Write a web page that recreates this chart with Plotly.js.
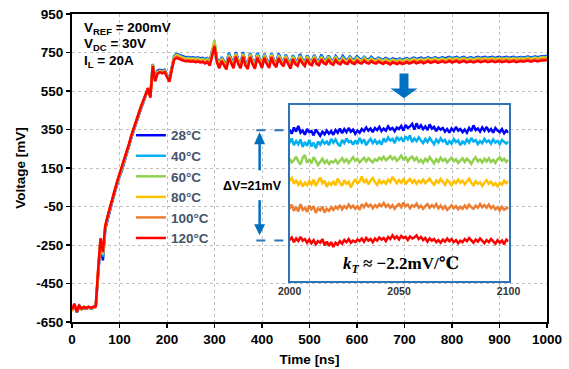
<!DOCTYPE html>
<html>
<head>
<meta charset="utf-8">
<script src="https://cdn.plot.ly/plotly-3.0.1.min.js"></script>
<style>html,body{margin:0;padding:0;background:#fff;}#chart{width:569px;height:369px;}</style>
</head>
<body>
<div id="chart"></div>
<script>
// ---------- DATA ----------
const seriesNames = ['28°C','40°C','60°C','80°C','100°C','120°C'];
const seriesColors = ['#0000FF','#00B0F0','#92D050','#FFC000','#ED7D31','#FF0000'];

// main chart: time start / step (ns)
const mainT0 = 0;
const mainDt = 5;

const main28 = [
-590,-565,-600,-575,-585,-578,-582,-575,-580,-578,
-572,-400,-240,-330,-170,-118,-62,-22,22,68,
106,138,176,220,263,308,348,386,420,456,
490,527,560,535,690,615,655,660,656,660,
632,610,672,730,742,737,731,728,725,727,
723,725,721,724,719,722,714,721,705,760,
795,721,689,726,703,684,748,719,689,752,
711,689,752,703,685,747,711,687,748,719,
691,743,711,691,745,711,695,745,715,699,
738,711,687,735,711,701,742,715,701,735,
711,705,737,711,705,738,715,709,733,713,
707,731,715,709,732,715,711,729,715,711,
730,717,713,727,717,713,728,717,713,723,
715,711,721,715,709,719,713,711,719,711,
715,721,713,717,723,715,719,723,715,721,
725,717,721,725,717,721,725,719,721,727,
719,723,727,719,723,727,719,723,725,719,
723,727,721,723,727,721,723,727,721,725,
727,721,723,727,721,725,727,721,723,727,
723,725,729,723,727,729,725,727,731,729,
733];
const main40 = [
-580,-570,-588,-560,-584,-576,-574,-574,-579,-570,
-570,-395,-232,-310,-165,-112,-58,-18,27,72,
110,142,180,224,267,312,352,390,424,460,
493,529,562,527,686,610,650,657,651,657,
628,606,669,728,740,734,728,725,722,724,
720,722,718,721,716,719,711,718,700,752,
798,718,686,723,700,680,745,716,686,748,
708,686,748,700,682,745,708,684,745,716,
688,742,708,688,745,708,692,742,712,696,
737,708,684,735,708,698,738,712,698,734,
708,702,735,708,702,734,712,706,732,710,
704,730,712,706,728,712,708,728,712,708,
728,714,710,726,714,710,725,714,710,720,
712,708,718,712,706,716,710,708,716,708,
712,718,710,714,720,712,716,720,712,718,
722,714,718,722,714,718,722,716,718,724,
716,720,724,716,720,724,716,720,722,716,
720,724,718,720,724,718,720,724,718,722,
724,718,720,724,718,722,724,718,720,724,
720,722,726,720,724,726,722,724,728,726,
730];
const main60 = [
-588,-560,-592,-568,-582,-574,-576,-572,-578,-575,
-569,-388,-225,-300,-158,-106,-55,-15,30,75,
113,145,183,227,270,315,355,393,427,463,
496,532,564,521,688,608,648,655,649,655,
626,604,667,725,737,731,725,722,719,721,
717,719,715,718,713,716,708,715,697,755,
815,715,683,720,697,677,737,713,683,743,
705,683,743,697,679,741,705,681,737,713,
685,737,705,685,739,705,689,735,709,693,
731,705,681,729,705,695,731,709,695,729,
705,699,731,705,699,727,709,703,727,707,
701,725,709,703,721,709,705,723,709,705,
721,711,707,721,711,707,719,711,707,717,
709,705,715,709,703,713,707,705,713,705,
709,715,707,711,717,709,713,717,709,715,
719,711,715,719,711,715,719,713,715,721,
713,717,721,713,717,721,713,717,719,713,
717,721,715,717,721,715,717,721,715,719,
721,715,717,721,715,719,721,715,717,721,
717,719,723,717,721,723,719,721,725,723,
727];
const main80 = [
-595,-558,-590,-572,-586,-570,-580,-575,-574,-578,
-570,-384,-220,-294,-154,-103,-53,-13,32,77,
115,147,185,229,272,317,357,395,429,465,
498,533,565,519,685,605,645,653,647,653,
623,602,665,722,733,727,721,718,715,717,
713,715,711,714,709,712,704,711,693,748,
800,711,679,716,693,673,733,709,679,739,
701,679,739,693,675,737,701,677,733,709,
681,733,701,681,735,701,685,731,705,689,
727,701,677,725,701,691,727,705,691,725,
701,695,727,701,695,723,705,699,723,703,
697,721,705,699,717,705,701,719,705,701,
717,707,703,717,707,703,715,707,703,713,
705,701,711,705,699,709,703,701,709,701,
705,711,703,707,713,705,709,713,705,711,
715,707,711,715,707,711,715,709,711,717,
709,713,717,709,713,717,709,713,715,709,
713,717,711,713,717,711,713,717,711,715,
717,711,713,717,711,715,717,711,713,717,
713,715,719,713,717,719,715,717,721,719,
723];
const main100 = [
-582,-562,-598,-568,-578,-575,-576,-573,-577,-571,
-569,-382,-218,-290,-152,-101,-51,-11,34,79,
117,149,187,231,274,319,359,397,431,467,
499,534,565,517,682,602,642,650,644,650,
620,600,662,718,728,722,716,713,710,712,
708,710,706,709,704,707,699,706,688,741,
790,706,674,711,688,668,728,704,674,734,
696,674,734,688,670,732,696,672,728,704,
676,728,696,676,730,696,680,726,700,684,
722,696,672,720,696,686,722,700,686,720,
696,690,722,696,690,718,700,694,718,698,
692,716,700,694,712,700,696,714,700,696,
712,702,698,712,702,698,710,702,698,708,
700,696,706,700,694,704,698,696,704,696,
700,706,698,702,708,700,704,708,700,706,
710,702,706,710,702,706,710,704,706,712,
704,708,712,704,708,712,704,708,710,704,
708,712,706,708,712,706,708,712,706,710,
712,706,708,712,706,710,712,706,708,712,
708,710,714,708,712,714,710,712,716,714,
718];
const main120 = [
-585,-555,-595,-565,-580,-572,-578,-570,-576,-573,
-568,-380,-215,-285,-150,-100,-50,-10,35,80,
118,150,188,232,275,320,360,398,432,468,
500,535,565,515,680,600,640,648,642,648,
618,598,660,712,722,716,710,707,704,706,
702,704,700,703,698,701,693,700,682,735,
782,700,668,705,682,662,722,698,668,728,
690,668,728,682,664,726,690,666,722,698,
670,722,690,670,724,690,674,720,694,678,
716,690,666,714,690,680,716,694,680,714,
690,684,716,690,684,712,694,688,712,692,
686,710,694,688,706,694,690,708,694,690,
706,696,692,706,696,692,704,696,692,702,
694,690,700,694,688,698,692,690,698,690,
694,700,692,696,702,694,698,702,694,700,
704,696,700,704,696,700,704,698,700,706,
698,702,706,698,702,706,698,702,704,698,
702,706,700,702,706,700,702,706,700,704,
706,700,702,706,700,704,706,700,702,706,
702,704,708,702,706,708,704,706,710,708,
712];

// inset (zoom 2000-2100 ns)
const insetT0 = 2000;
const insetDt = 1;
const inset28 = [
721.2,720.4,721.6,720.8,721.9,720.6,721.0,720.2,721.3,720.7,
720.9,720.1,721.2,720.5,720.0,720.8,720.3,721.0,720.4,720.9,
720.2,721.1,720.6,721.4,720.5,721.3,720.7,721.5,720.8,721.2,
720.4,721.0,720.6,721.3,720.9,721.6,721.0,721.4,720.7,721.5,
721.1,721.7,720.9,721.4,721.0,721.8,721.2,721.5,720.9,721.6,
721.3,721.9,721.0,722.1,721.5,721.8,722.3,721.2,722.4,721.4,
722.0,721.3,721.8,721.1,722.2,721.4,721.7,720.9,721.6,721.2,
721.5,720.8,721.3,720.6,721.4,720.9,721.7,721.0,721.3,720.7,
721.2,720.6,721.5,720.9,722.0,721.1,721.4,720.8,721.6,721.0,
721.7,720.9,721.3,720.6,721.5,721.0,720.7,721.3,720.5,721.0,
720.6];
const inset40 = [
718.6,719.5,718.2,719.0,718.4,719.3,717.9,718.8,718.1,719.2,
718.0,718.7,717.6,718.9,718.3,719.1,718.5,718.9,718.2,719.4,
718.7,719.3,718.5,718.0,719.2,718.6,719.5,718.8,719.0,718.3,
719.1,718.4,719.6,718.7,719.3,718.2,718.9,719.4,718.6,719.2,
718.5,719.0,718.3,719.5,718.8,719.7,719.1,719.4,718.6,719.8,
719.2,719.6,718.9,719.9,719.3,720.1,718.8,719.5,719.0,719.7,
719.1,718.6,719.4,718.8,719.6,719.0,718.4,719.3,718.7,719.5,
718.9,719.2,718.3,719.0,718.5,719.4,718.8,719.1,718.2,718.9,
718.5,719.3,718.7,719.6,718.9,719.2,718.4,719.0,718.6,719.4,
718.8,719.1,718.5,719.3,718.7,719.0,718.4,719.2,718.9,718.5,
718.9];
const inset60 = [
715.6,714.9,715.3,716.0,715.1,714.5,715.8,716.3,714.8,715.5,
714.7,715.9,715.2,714.4,715.0,715.6,714.8,715.3,714.6,715.1,
714.9,715.4,714.7,715.2,715.7,715.0,715.5,714.8,715.4,715.9,
715.2,715.6,714.9,715.3,715.8,715.1,715.7,715.3,714.9,715.5,
715.2,715.8,715.4,716.0,715.3,715.7,716.1,715.5,715.9,715.2,
715.6,716.2,715.5,715.9,715.1,715.7,716.0,715.3,715.8,715.0,
715.4,714.8,715.6,715.1,715.9,715.3,714.7,715.5,715.0,715.8,
715.2,715.6,714.9,715.4,715.8,715.1,715.5,714.8,715.3,715.7,
715.0,715.6,715.2,714.6,715.4,715.9,715.1,715.5,714.9,715.6,
715.1,715.7,715.0,715.4,714.8,715.5,715.9,715.2,715.6,715.0,
715.4];
const inset80 = [
711.4,711.9,710.8,711.5,710.6,711.2,710.3,711.0,710.5,711.3,
710.7,711.6,710.4,711.1,712.0,710.9,711.4,710.2,711.0,710.6,
711.3,710.5,711.8,711.0,710.4,711.5,710.8,711.2,710.1,711.0,
711.7,710.9,711.3,712.2,711.0,711.6,710.7,711.4,711.9,711.1,
710.6,711.5,710.9,711.3,710.8,711.6,711.1,712.1,711.4,710.9,
711.5,711.0,711.8,710.7,711.3,711.7,711.0,711.5,710.8,711.4,
711.0,711.6,710.9,711.3,711.8,711.1,710.6,711.4,711.0,711.7,
711.2,710.6,711.5,711.1,710.5,711.3,710.9,711.6,711.0,711.4,
710.7,711.2,711.8,711.0,710.5,711.3,710.8,711.1,710.4,711.0,
711.5,710.8,711.2,710.5,710.9,710.3,711.0,710.6,711.4,710.9,
711.3];
const inset100 = [
706.0,706.8,705.6,706.4,705.5,706.9,705.8,706.2,705.4,706.6,
705.9,706.5,705.2,706.1,705.7,706.4,705.3,706.0,705.6,706.3,
705.8,706.4,706.0,706.7,705.9,706.5,706.1,706.8,706.2,706.6,
706.0,706.5,705.8,706.9,706.3,707.0,706.4,706.8,706.1,706.7,
706.3,706.9,706.5,707.1,706.4,706.8,706.2,706.7,706.0,706.6,
706.9,706.3,707.2,706.5,706.8,706.1,706.7,706.4,707.0,706.2,
706.6,706.0,706.5,706.9,706.2,706.7,706.3,706.9,706.1,706.6,
706.0,706.5,705.8,706.3,706.7,706.1,706.5,705.9,706.4,706.0,
706.6,706.1,706.8,706.3,706.0,706.6,706.2,706.9,706.3,706.7,
706.2,706.8,706.1,706.5,705.9,706.3,705.7,706.4,705.8,706.1,
706.3];
const inset120 = [
700.0,700.5,699.6,700.3,699.8,700.6,699.9,700.2,699.5,700.1,
699.4,700.0,699.2,699.8,699.5,700.2,699.0,699.7,698.9,699.6,
698.7,699.5,699.1,699.8,699.3,700.0,699.6,700.2,699.5,699.9,
699.6,700.1,699.8,700.3,699.7,700.4,699.9,700.2,699.6,700.3,
699.9,700.5,700.1,700.4,699.8,700.6,700.2,700.9,700.3,700.7,
700.1,700.8,700.4,700.6,700.0,700.7,700.3,700.5,700.9,700.2,
700.6,700.0,700.4,699.7,700.3,699.9,700.2,699.6,700.0,699.5,
700.1,699.7,700.3,699.8,700.2,699.6,700.0,699.4,699.9,699.6,
700.2,699.8,700.4,699.9,699.5,700.1,699.7,700.3,699.8,699.4,
700.0,699.6,700.2,699.7,699.3,700.0,699.5,699.9,699.2,700.1,
699.8];

const yTickVals = [-650,-450,-250,-50,150,350,550,750,950];
const yTickText = ['-650','-450','-250','-50','150','350','550','750','950'];
const xTickVals = [0,100,200,300,400,500,600,700,800,900,1000];
const insetTickVals = [2000,2050,2100];

// ---------- BUILD ----------
const mainSeries = [main28, main40, main60, main80, main100, main120];
const insetSeries = [inset28, inset40, inset60, inset80, inset100, inset120];
const FONT = 'Liberation Sans, Arial, sans-serif';

const traces = [];
mainSeries.forEach((ys, i) => {
  traces.push({
    type: 'scatter', mode: 'lines', name: seriesNames[i],
    x0: mainT0, dx: mainDt, y: ys,
    line: {color: seriesColors[i], width: 2.5},
    xaxis: 'x', yaxis: 'y', showlegend: true, hoverinfo: 'skip'
  });
});
insetSeries.forEach((ys, i) => {
  traces.push({
    type: 'scatter', mode: 'lines', name: seriesNames[i],
    x0: insetT0, dx: insetDt, y: ys,
    line: {color: seriesColors[i], width: 2.5},
    xaxis: 'x2', yaxis: 'y2', showlegend: false, hoverinfo: 'skip'
  });
});

const boldBlack = (s) => ({family: FONT, size: s, color: '#000', weight: 'bold'});
const BLUE = '#2E75B6';
const ARROW = '#0070C0';

const layout = {
  width: 569, height: 369,
  margin: {l: 72, r: 22, t: 14, b: 47, pad: 0},
  paper_bgcolor: '#fff', plot_bgcolor: 'rgba(0,0,0,0)',
  font: {family: FONT, color: '#000'},
  showlegend: true,
  legend: {
    x: 0.124, y: 0.656, xanchor: 'left', yanchor: 'top',
    bgcolor: 'rgba(0,0,0,0)', borderwidth: 0,
    font: {family: FONT, size: 13.5, color: '#44546A', weight: 'bold'},
    tracegroupgap: 0
  },
  xaxis: {
    range: [0, 1000], tickvals: xTickVals, showgrid: true,
    gridcolor: '#BFBFBF', griddash: 'dot', gridwidth: 1,
    zeroline: false, showline: true, linecolor: '#000', linewidth: 2, mirror: true,
    ticks: 'outside', ticklen: 4, tickcolor: '#000', tickwidth: 1.5,
    tickfont: boldBlack(13.5),
    title: {text: 'Time [ns]', font: boldBlack(13.5), standoff: 8}
  },
  yaxis: {
    range: [-650, 950], tickvals: yTickVals, ticktext: yTickText, showgrid: true,
    gridcolor: '#BFBFBF', griddash: 'dot', gridwidth: 1,
    zeroline: false, showline: true, linecolor: '#000', linewidth: 2, mirror: true,
    ticks: 'outside', ticklen: 4, tickcolor: '#000', tickwidth: 1.5,
    tickfont: boldBlack(13.5),
    title: {text: 'Voltage [mV]', font: boldBlack(13.5), standoff: 8}
  },
  xaxis2: {
    domain: [0.458, 0.919], anchor: 'y2', range: [2000, 2100],
    tickvals: insetTickVals, showgrid: false, zeroline: false,
    showline: true, linecolor: BLUE, linewidth: 2, mirror: true, ticks: '',
    tickfont: {family: FONT, size: 10.5, color: '#333', weight: 'bold'}
  },
  yaxis2: {
    domain: [0.134, 0.706], anchor: 'x2', range: [692.2, 726],
    showgrid: false, zeroline: false, showticklabels: false,
    showline: true, linecolor: BLUE, linewidth: 2, mirror: true, ticks: ''
  },
  shapes: [
    // dashed reference lines for delta V
    {type: 'line', xref: 'x', yref: 'y', x0: 388, x1: 457, y0: 346, y1: 346,
     line: {color: BLUE, width: 2, dash: 'dash'}},
    {type: 'line', xref: 'x', yref: 'y', x0: 388, x1: 457, y0: -227, y1: -227,
     line: {color: BLUE, width: 2, dash: 'dash'}},
    // up arrow (shaft + head)
    {type: 'line', xref: 'x', yref: 'y', x0: 395, x1: 395, y0: 138, y1: 280,
     line: {color: ARROW, width: 2.5}},
    {type: 'path', xref: 'x', yref: 'y',
     path: 'M383.4,273 L406.6,273 L395,337 Z', fillcolor: ARROW, line: {width: 0}},
    // down arrow (shaft + head)
    {type: 'line', xref: 'x', yref: 'y', x0: 395, x1: 395, y0: -17, y1: -150,
     line: {color: ARROW, width: 2.5}},
    {type: 'path', xref: 'x', yref: 'y',
     path: 'M383.4,-142 L406.6,-142 L395,-199 Z', fillcolor: ARROW, line: {width: 0}},
    // big arrow pointing at the inset
    {type: 'path', xref: 'x', yref: 'y',
     path: 'M689.5,641 L708.4,641 L708.4,563.6 L727.4,563.6 L699,511.8 L670.5,563.6 L689.5,563.6 Z',
     fillcolor: ARROW, line: {width: 0}}
  ],
  annotations: [
    {xref: 'x', yref: 'y', x: 22, y: 873, xanchor: 'left', yanchor: 'middle',
     text: 'V<sub>REF</sub> = 200mV', showarrow: false, font: boldBlack(13.5)},
    {xref: 'x', yref: 'y', x: 22, y: 790, xanchor: 'left', yanchor: 'middle',
     text: 'V<sub>DC</sub> = 30V', showarrow: false, font: boldBlack(13.5)},
    {xref: 'x', yref: 'y', x: 22, y: 704, xanchor: 'left', yanchor: 'middle',
     text: 'I<sub>L</sub> = 20A', showarrow: false, font: boldBlack(13.5)},
    {xref: 'x', yref: 'y', x: 379, y: 57, xanchor: 'center', yanchor: 'middle',
     text: 'ΔV=21mV', showarrow: false, font: boldBlack(12.5)},
    {xref: 'x', yref: 'y', x: 691.6, y: -354, xanchor: 'center', yanchor: 'middle',
     text: '<i>k</i><sub><i>T</i></sub> ≈ −2.2mV/℃', showarrow: false,
     font: {family: 'Liberation Serif, DejaVu Serif, serif', size: 17, color: '#000', weight: 'bold'}}
  ]
};

Plotly.newPlot('chart', traces, layout, {staticPlot: true, displayModeBar: false});
</script>
</body>
</html>
